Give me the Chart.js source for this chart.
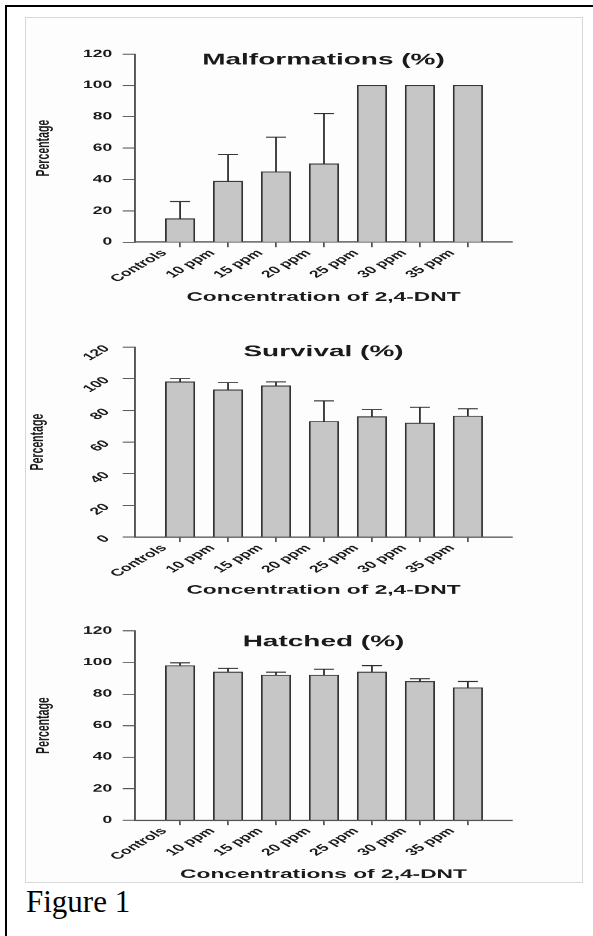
<!DOCTYPE html>
<html>
<head>
<meta charset="utf-8">
<script src="https://cdn.jsdelivr.net/npm/chart.js@4.4.1/dist/chart.umd.min.js"></script>
<style>
  html, body { margin: 0; padding: 0; background: #fff; }
  #page { position: relative; width: 593px; height: 936px; overflow: hidden; }
  #frame { position: absolute; left: 5px; top: 5px; right: -10px; bottom: -10px; border-left: 2px solid #000; border-top: 2px solid #000; }
  #plate { position: absolute; left: 25px; top: 17px; width: 556px; height: 864px; border: 1px solid #d8d8d8; background: #fdfdfd; }
  canvas { position: absolute; left: 0; }
  #caption { position: absolute; left: 26px; top: 886px; font: 31px 'Liberation Serif', 'Times New Roman', serif; line-height: 31px; color: #000; }
</style>
</head>
<body>
<div id="page">
  <div id="frame"></div>
  <div id="plate"></div>
  <canvas id="chart-malf" width="339" height="305" style="top:17px;width:593px;height:305px"></canvas>
  <canvas id="chart-surv" width="339" height="290" style="top:322px;width:593px;height:290px"></canvas>
  <canvas id="chart-hatch" width="339" height="270" style="top:612px;width:593px;height:270px"></canvas>
  <div id="caption">Figure 1</div>
</div>
<script>
const concentrations = ['Controls', '10 ppm', '15 ppm', '20 ppm', '25 ppm', '30 ppm', '35 ppm'];
const yTicks = [0, 20, 40, 60, 80, 100, 120];

const malformations    = [15, 39, 45, 50, 100, 100, 100];
const malformationsErr = [11, 17, 22, 32, 0, 0, 0];
const survival         = [98, 93, 95.5, 73, 76, 72, 76.5];
const survivalErr      = [2, 4.5, 2.5, 13, 4.5, 10, 4.5];
const hatched          = [98, 94, 92, 92, 94, 88, 84];
const hatchedErr       = [1.8, 2.3, 1.9, 3.8, 4, 1.7, 4];

// the original figure is a Prism plot stretched sideways, so every chart is
// drawn narrow and widened by css
const S = 593 / 339;
const FONT = "'Liberation Sans', Arial, sans-serif";
const INK = '#1a1a1a';
const AXIS = '#555';

// up-only error bars with a cap
const errorBars = {
  id: 'errorBars',
  afterDatasetsDraw(chart, args, opts) {
    const { ctx } = chart;
    const y = chart.scales.y;
    const meta = chart.getDatasetMeta(0);
    const pts = chart.data.datasets[0].data;
    ctx.save();
    ctx.strokeStyle = '#2b2b2b';
    ctx.lineWidth = 1;
    meta.data.forEach((bar, i) => {
      const e = opts.errors[i];
      if (!e) return;
      const top = y.getPixelForValue(pts[i].y + e);
      ctx.beginPath();
      ctx.moveTo(bar.x, bar.y);
      ctx.lineTo(bar.x, top);
      ctx.moveTo(bar.x - 5.7, top);
      ctx.lineTo(bar.x + 5.7, top);
      ctx.stroke();
    });
    ctx.restore();
  }
};

// heading sits inside the plot, near the top
const panelTitle = {
  id: 'panelTitle',
  afterDraw(chart, args, opts) {
    const { ctx, chartArea } = chart;
    ctx.save();
    ctx.font = `bold 16px ${FONT}`;
    ctx.fillStyle = INK;
    ctx.textAlign = 'center';
    ctx.textBaseline = 'middle';
    ctx.fillText(opts.text, (chartArea.left + chartArea.right) / 2, opts.y);
    ctx.restore();
  }
};

function makePanel(id, cfg) {
  const canvas = document.getElementById(id);
  const H = canvas.height;
  return new Chart(canvas, {
    type: 'bar',
    data: {
      datasets: [{
        data: cfg.values.map((v, i) => ({ x: i, y: v })),
        backgroundColor: '#c6c6c6',
        borderColor: '#333',
        borderWidth: 1,
        barThickness: 16.6
      }]
    },
    plugins: [errorBars, panelTitle],
    options: {
      responsive: false,
      animation: false,
      devicePixelRatio: S,
      layout: { padding: { top: cfg.yTop - cfg.top, right: 339 - 512 / S, left: 0, bottom: 0 } },
      plugins: {
        legend: { display: false },
        tooltip: { enabled: false },
        errorBars: { errors: cfg.errors },
        panelTitle: { text: cfg.title, y: cfg.titleY - cfg.top }
      },
      scales: {
        x: {
          type: 'linear',
          offset: false,
          min: -0.94,
          max: 6.92,
          afterBuildTicks: s => { s.ticks = concentrations.map((c, i) => ({ value: i })); },
          afterFit: s => { s.height = H - (cfg.yZero - cfg.top); },
          grid: { offset: false, drawOnChartArea: false, drawTicks: true, tickLength: 5, color: AXIS },
          border: { display: true, color: AXIS, width: 1.3 },
          ticks: {
            callback: v => concentrations[v],
            minRotation: 45, maxRotation: 45,
            labelOffset: -9,
            padding: 0,
            autoSkip: false,
            color: INK,
            font: { family: FONT, size: 10, weight: 'bold' }
          },
          title: {
            display: true,
            text: cfg.xTitle,
            color: INK,
            font: { family: FONT, size: 13, weight: 'bold' },
            padding: { top: 0, bottom: (cfg.top + H) - cfg.xTitleY - 7.8 }
          }
        },
        y: {
          min: 0,
          max: 120,
          afterBuildTicks: s => { s.ticks = yTicks.map(v => ({ value: v })); },
          afterFit: s => { s.width = 135 / S; },
          grid: { drawOnChartArea: false, drawTicks: true, tickLength: 7, color: AXIS },
          border: { display: true, color: AXIS, width: 1.1 },
          ticks: {
            minRotation: cfg.yRot, maxRotation: cfg.yRot,
            padding: cfg.yRot ? 9 : 6,
            color: INK,
            font: { family: FONT, size: 10, weight: 'bold' }
          },
          title: {
            display: true,
            text: 'Percentage',
            color: INK,
            font: { family: FONT, size: 10.5, weight: 'bold' },
            padding: { top: cfg.yTitleX / S - 6.3, bottom: 0 }
          }
        }
      }
    }
  });
}

makePanel('chart-malf', {
  values: malformations, errors: malformationsErr,
  title: 'Malformations (%)', xTitle: 'Concentration of 2,4-DNT',
  top: 17, yTop: 54, yZero: 242, titleY: 60, xTitleY: 297, yTitleX: 44, yRot: 0
});
makePanel('chart-surv', {
  values: survival, errors: survivalErr,
  title: 'Survival (%)', xTitle: 'Concentration of 2,4-DNT',
  top: 322, yTop: 347, yZero: 537, titleY: 352, xTitleY: 590, yTitleX: 38, yRot: 45
});
makePanel('chart-hatch', {
  values: hatched, errors: hatchedErr,
  title: 'Hatched (%)', xTitle: 'Concentrations of 2,4-DNT',
  top: 612, yTop: 631, yZero: 820, titleY: 642, xTitleY: 874, yTitleX: 44, yRot: 0
});
</script>
</body>
</html>
